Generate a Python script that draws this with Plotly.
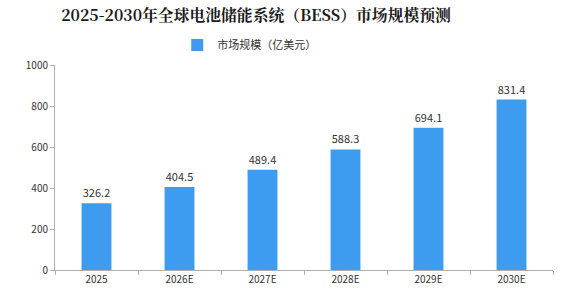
import plotly.graph_objects as go

years = ["2025", "2026E", "2027E", "2028E", "2029E", "2030E"]
market_size = [326.2, 404.5, 489.4, 588.3, 694.1, 831.4]
series_name = "市场规模（亿美元）"
title_text = "2025-2030年全球电池储能系统（BESS）市场规模预测"

fig = go.Figure()
fig.add_trace(go.Bar(
    x=years, y=market_size, name=series_name,
    marker=dict(color="#3d9cf0", line=dict(width=0)),
    text=[f"{v:.1f}" for v in market_size],
    textposition="outside",
    textfont=dict(size=11, color="#333333"),
    cliponaxis=False,
))

fig.update_layout(
    width=572, height=294,
    margin=dict(l=55, r=19, t=65, b=24, autoexpand=False),
    paper_bgcolor="white", plot_bgcolor="white",
    font=dict(family="Noto Sans CJK SC, DejaVu Sans", size=10, color="#333333"),
    title=dict(text=f"<b>{title_text}</b>", x=256/572, xanchor="center", y=1-15/294, yanchor="middle",
               font=dict(size=15.8, color="#1a1a1a", family="Noto Serif CJK SC, Noto Sans CJK SC")),
    showlegend=True,
    legend=dict(orientation="h", x=0.39, xanchor="center", y=1+20/205, yanchor="middle",
                font=dict(size=11), itemwidth=30, bgcolor="rgba(0,0,0,0)"),
    bargap=0.64,
    xaxis=dict(showline=True, linecolor="#b0b0b0", linewidth=1, ticks="outside", tickson="boundaries",
               ticklen=4, tickcolor="#b0b0b0", showgrid=False, tickfont=dict(size=10), automargin=False),
    yaxis=dict(range=[0, 1000], dtick=200, showline=True, linecolor="#b0b0b0", linewidth=1,
               ticks="outside", ticklen=4, tickcolor="#b0b0b0", showgrid=False, zeroline=False,
               tickfont=dict(size=10), automargin=False),
)

fig.write_html("out.html")
